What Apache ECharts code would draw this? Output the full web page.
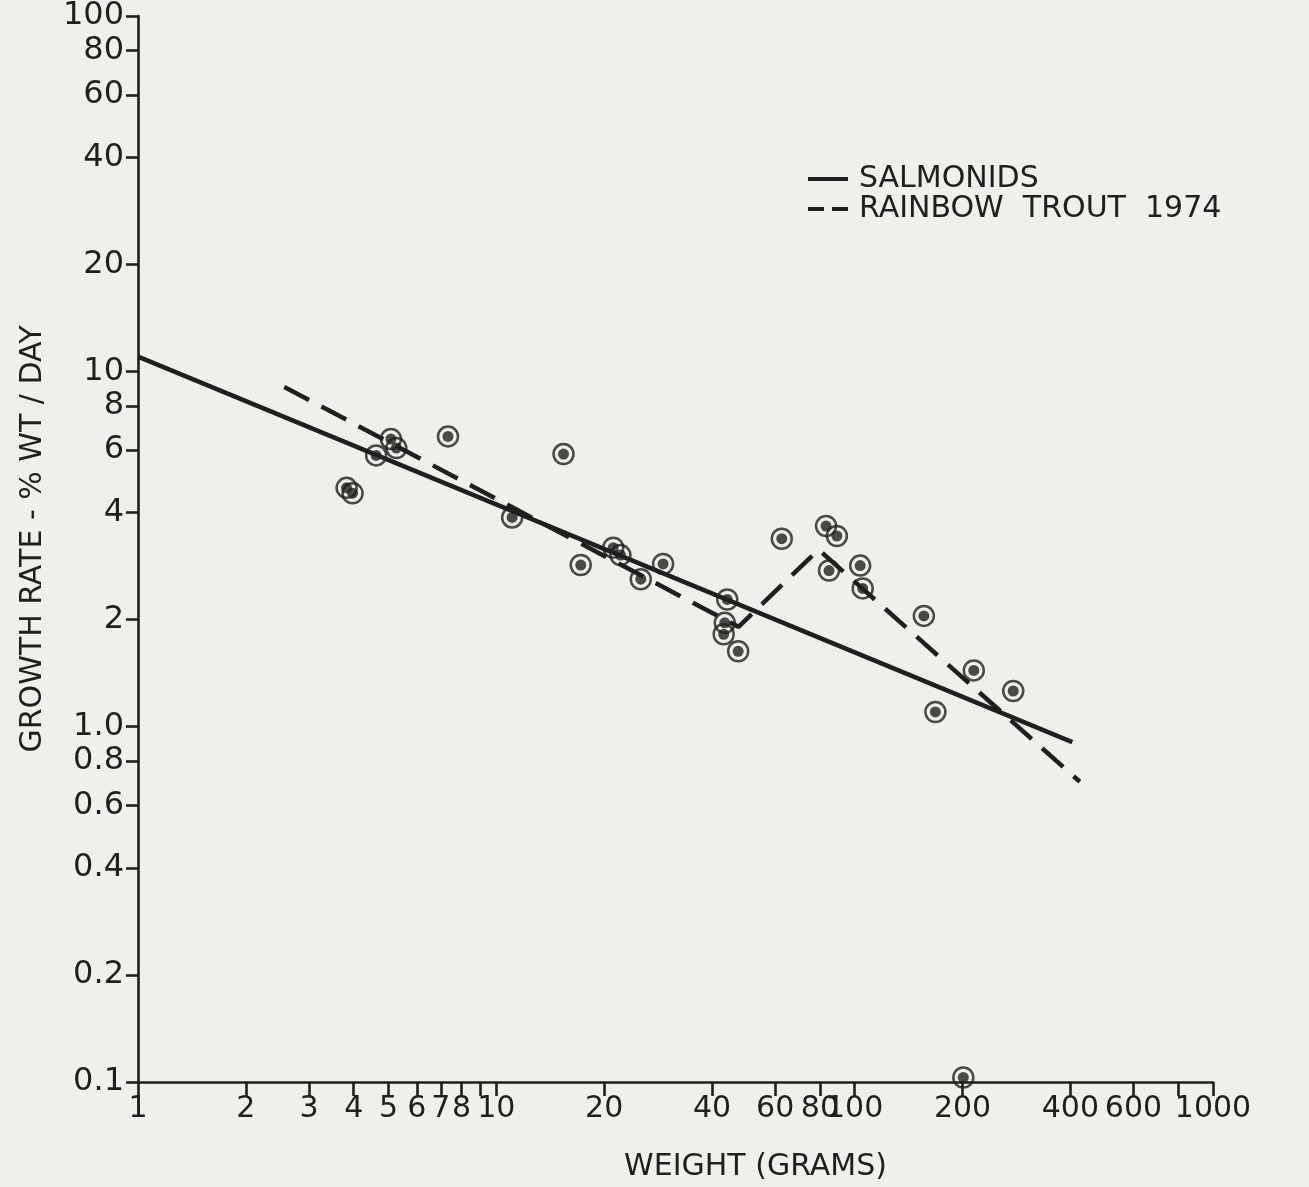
<!DOCTYPE html>
<html>
<head>
<meta charset="utf-8">
<script src="https://cdn.jsdelivr.net/npm/echarts@6/dist/echarts.min.js"></script>
<style>
  html, body { margin: 0; padding: 0; background: #efefec; }
  #chart { width: 1309px; height: 1187px; }
</style>
</head>
<body>
<div id="chart"></div>
<script>
// ---- data (weight in grams, growth rate % wt / day) ----
const weightGrams = [3.82, 3.97, 4.62, 5.08, 5.26, 7.33, 11.07, 15.4, 17.2, 21.2, 22.2, 25.3, 29.2,
                     44.1, 43.4, 43.1, 47.3, 62.6, 83.2, 89.2, 84.8, 103.6, 105.3, 156, 168, 215, 277, 201];
const growthRate  = [4.70, 4.54, 5.80, 6.45, 6.08, 6.56, 3.88, 5.85, 2.85, 3.19, 3.04, 2.60, 2.87,
                     2.28, 1.96, 1.82, 1.63, 3.38, 3.67, 3.44, 2.75, 2.84, 2.45, 2.05, 1.10, 1.44, 1.26, 0.103];

const salmonidsX = [1, 405];
const salmonidsY = [11.0, 0.905];

const troutX = [2.56, 47.4, 79.3, 425];
const troutY = [9.04, 1.91, 3.15, 0.70];

// ---- axis ticks / labels ----
const xTickValues  = [1, 2, 3, 4, 5, 6, 7, 8, 9, 10, 20, 40, 60, 80, 100, 200, 400, 600, 800, 1000];
const xLabelValues = [1, 2, 3, 4, 5, 6, 7, 8, 10, 20, 40, 60, 80, 100, 200, 400, 600, 1000];
const xLabelTexts  = ['1', '2', '3', '4', '5', '6', '7', '8', '10', '20', '40', '60', '80', '100', '200', '400', '600', '1000'];
const yTickValues  = [0.1, 0.2, 0.4, 0.6, 0.8, 1, 2, 4, 6, 8, 10, 20, 40, 60, 80, 100];
const yLabelTexts  = ['0.1', '0.2', '0.4', '0.6', '0.8', '1.0', '2', '4', '6', '8', '10', '20', '40', '60', '80', '100'];

const INK = '#1f1f1f';
const BG = '#efefec';
const FONT = 'DejaVu Sans';

function pickLabel(values, texts, v) {
  for (let i = 0; i < values.length; i++) {
    if (Math.abs(Math.log10(values[i]) - Math.log10(v)) < 1e-6) return texts[i];
  }
  return '';
}

const points = weightGrams.map((w, i) => [w, growthRate[i]]);
const salmonids = salmonidsX.map((x, i) => [x, salmonidsY[i]]);
const trout = troutX.map((x, i) => [x, troutY[i]]);

const SOLID_ICON = 'path://M0,0 H40 V4 H0 Z';
const DASH_ICON = 'path://M0,0 H16 V4 H0 Z M24,0 H40 V4 H24 Z';

const chart = echarts.init(document.getElementById('chart'));
chart.setOption({
  backgroundColor: BG,
  animation: false,
  textStyle: { fontFamily: FONT, color: INK },
  grid: { left: 138, top: 12, width: 1075, height: 1070 },
  legend: {
    orient: 'vertical',
    left: 808,
    top: 164,
    padding: 0,
    itemGap: 0,
    itemWidth: 40,
    itemHeight: 26,
    selectedMode: false,
    textStyle: { fontFamily: FONT, fontSize: 30, color: INK, lineHeight: 26, padding: [0, 0, 0, 6] },
    data: [
      { name: 'SALMONIDS', icon: SOLID_ICON, itemStyle: { color: INK } },
      { name: 'RAINBOW  TROUT  1974', icon: DASH_ICON, itemStyle: { color: INK } }
    ]
  },
  xAxis: {
    type: 'log',
    logBase: 10,
    min: 1,
    max: 1000,
    name: 'WEIGHT (GRAMS)',
    nameLocation: 'middle',
    nameGap: 70,
    nameTextStyle: { fontFamily: FONT, fontSize: 30, color: INK, padding: [0, 0, 0, 160] },
    axisLine: { show: true, lineStyle: { color: INK, width: 2.6 } },
    axisTick: { show: true, length: 14, lineStyle: { color: INK, width: 2.6 }, customValues: xTickValues },
    axisLabel: {
      show: true, margin: 12, fontFamily: FONT, fontSize: 30, color: INK,
      customValues: xLabelValues,
      formatter: v => pickLabel(xLabelValues, xLabelTexts, v)
    },
    splitLine: { show: false },
    minorTick: { show: false }
  },
  yAxis: {
    type: 'log',
    logBase: 10,
    min: 0.1,
    max: 100,
    name: 'GROWTH RATE - % WT / DAY',
    nameLocation: 'middle',
    nameRotate: 90,
    nameGap: 90,
    nameTextStyle: { fontFamily: FONT, fontSize: 30, color: INK, padding: [0, 0, 0, 20] },
    axisLine: { show: true, lineStyle: { color: INK, width: 2.6 } },
    axisTick: { show: true, length: 12, lineStyle: { color: INK, width: 2.6 }, customValues: yTickValues },
    axisLabel: {
      show: true, margin: 14, fontFamily: FONT, fontSize: 32, color: INK,
      customValues: yTickValues,
      formatter: v => pickLabel(yTickValues, yLabelTexts, v)
    },
    splitLine: { show: false },
    minorTick: { show: false }
  },
  series: [
    {
      name: 'SALMONIDS',
      type: 'line',
      data: salmonids,
      symbol: 'none',
      itemStyle: { color: INK },
      lineStyle: { color: INK, width: 4.5, type: 'solid' },
      z: 2
    },
    {
      name: 'RAINBOW  TROUT  1974',
      type: 'line',
      data: trout,
      symbol: 'none',
      itemStyle: { color: INK },
      lineStyle: { color: INK, width: 4.5, type: [28, 14] },
      z: 2
    },
    {
      name: 'rings',
      type: 'scatter',
      data: points,
      symbol: 'circle',
      symbolSize: 20,
      itemStyle: { color: 'rgba(0,0,0,0)', borderColor: INK, borderWidth: 2.5 },
      z: 3
    },
    {
      name: 'dots',
      type: 'scatter',
      data: points,
      symbol: 'circle',
      symbolSize: 11,
      itemStyle: { color: INK },
      z: 4
    }
  ]
});
</script>
</body>
</html>
